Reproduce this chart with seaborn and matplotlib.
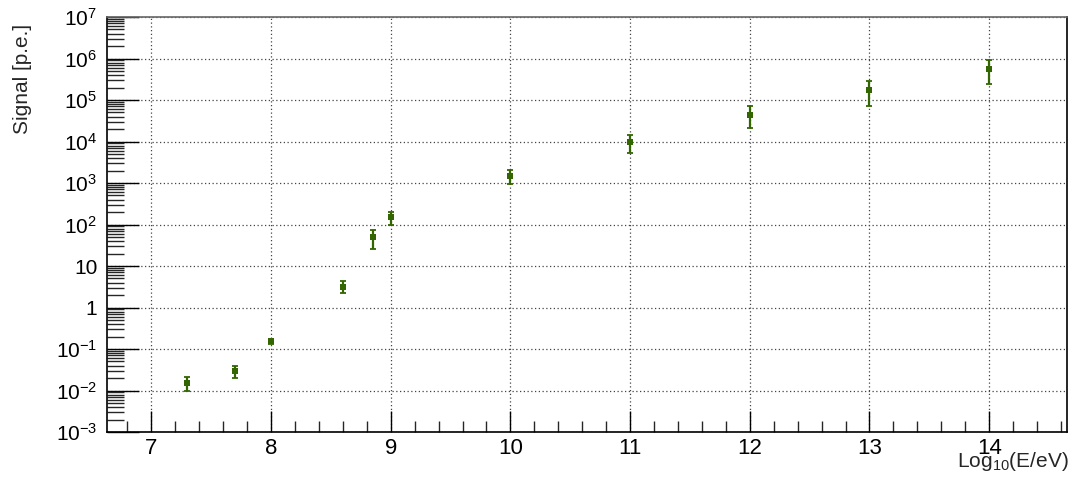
import numpy as np
import pandas as pd
import matplotlib
matplotlib.use("Agg")
import matplotlib.pyplot as plt
import seaborn as sns
from matplotlib.ticker import LogLocator, FuncFormatter, MultipleLocator, NullFormatter

# data
log_energy = [7.3, 7.7, 8.0, 8.6, 8.85, 9.0, 10.0, 11.0, 12.0, 13.0, 14.0]
signal = [0.015, 0.0295, 0.155, 3.1, 50, 152, 1480, 9800, 43500, 174000, 560000]
err_low = [0.0095, 0.0195, 0.135, 2.2, 26, 98, 950, 5200, 21000, 72000, 245000]
err_high = [0.021, 0.040, 0.178, 4.4, 74, 200, 2040, 14400, 72000, 290000, 910000]

xlabel_text = r"Log$_{10}$(E/eV)"
ylabel_text = "Signal [p.e.]"

sns.set_theme(style="ticks")
plt.rcParams['font.family'] = ['Liberation Sans', 'DejaVu Sans']
plt.rcParams['mathtext.fontset'] = 'custom'
plt.rcParams['mathtext.rm'] = 'Liberation Sans'
plt.rcParams['mathtext.it'] = 'Liberation Sans:italic'
plt.rcParams['mathtext.bf'] = 'Liberation Sans:bold'

df = pd.DataFrame({"x": log_energy, "y": signal, "lo": err_low, "hi": err_high})

fig = plt.figure(figsize=(10.73, 4.83), dpi=100)
ax = fig.add_axes([107/1073, 1 - 432/483, (1067-107)/1073, (432-17)/483])

color = "#336600"
yerr = np.array([df["y"] - df["lo"], df["hi"] - df["y"]])
ax.errorbar(df["x"], df["y"], yerr=yerr, fmt="none", ecolor=color, elinewidth=1.6,
            capsize=2.2, capthick=1.3, zorder=3)
sns.scatterplot(data=df, x="x", y="y", marker="s", color=color, s=18, edgecolor=color,
                linewidth=0, ax=ax, zorder=4, legend=False)

ax.set_yscale("log")
ax.set_ylim(1e-3, 1e7)
ax.set_xlim(6.63, 14.65)

ax.xaxis.set_major_locator(MultipleLocator(1))
ax.xaxis.set_minor_locator(MultipleLocator(0.2))
ax.yaxis.set_major_locator(LogLocator(base=10, numticks=20))
ax.yaxis.set_minor_locator(LogLocator(base=10, subs=np.arange(2, 10), numticks=200))
ax.yaxis.set_minor_formatter(NullFormatter())

def yfmt(v, pos):
    e = int(round(np.log10(v)))
    if e == 0:
        return "1"
    if e == 1:
        return "10"
    if e < 0:
        return r"$10^{\mathregular{-%d}}$" % (-e)
    return r"$10^{%d}$" % e

ax.yaxis.set_major_formatter(FuncFormatter(yfmt))

ax.tick_params(axis="both", which="major", direction="in", colors="black")
ax.tick_params(axis="x", which="major", length=15, width=1, pad=4, labelsize=16)
ax.tick_params(axis="x", which="minor", direction="in", length=8, width=1)
ax.tick_params(axis="y", which="major", length=23, width=1, pad=7, labelsize=15)
ax.tick_params(axis="y", which="minor", direction="in", length=12, width=1)
ax.tick_params(top=False, right=False, which="both")

ax.grid(True, which="major", linestyle=(0, (1, 2)), color="#444444", linewidth=0.9)
for s in ax.spines.values():
    s.set_color("black")
    s.set_linewidth(1.2)
ax.spines["top"].set_color("#666666")

ax.set_xlabel("")
ax.set_ylabel("")
fig.text(1069/1073, 1 - 467/483, xlabel_text, ha="right", va="baseline", fontsize=15)
fig.text(23/1073, 1 - 24/483, ylabel_text, ha="center", va="top", rotation=90, fontsize=15)

fig.savefig("out.png", dpi=100, facecolor="white")
